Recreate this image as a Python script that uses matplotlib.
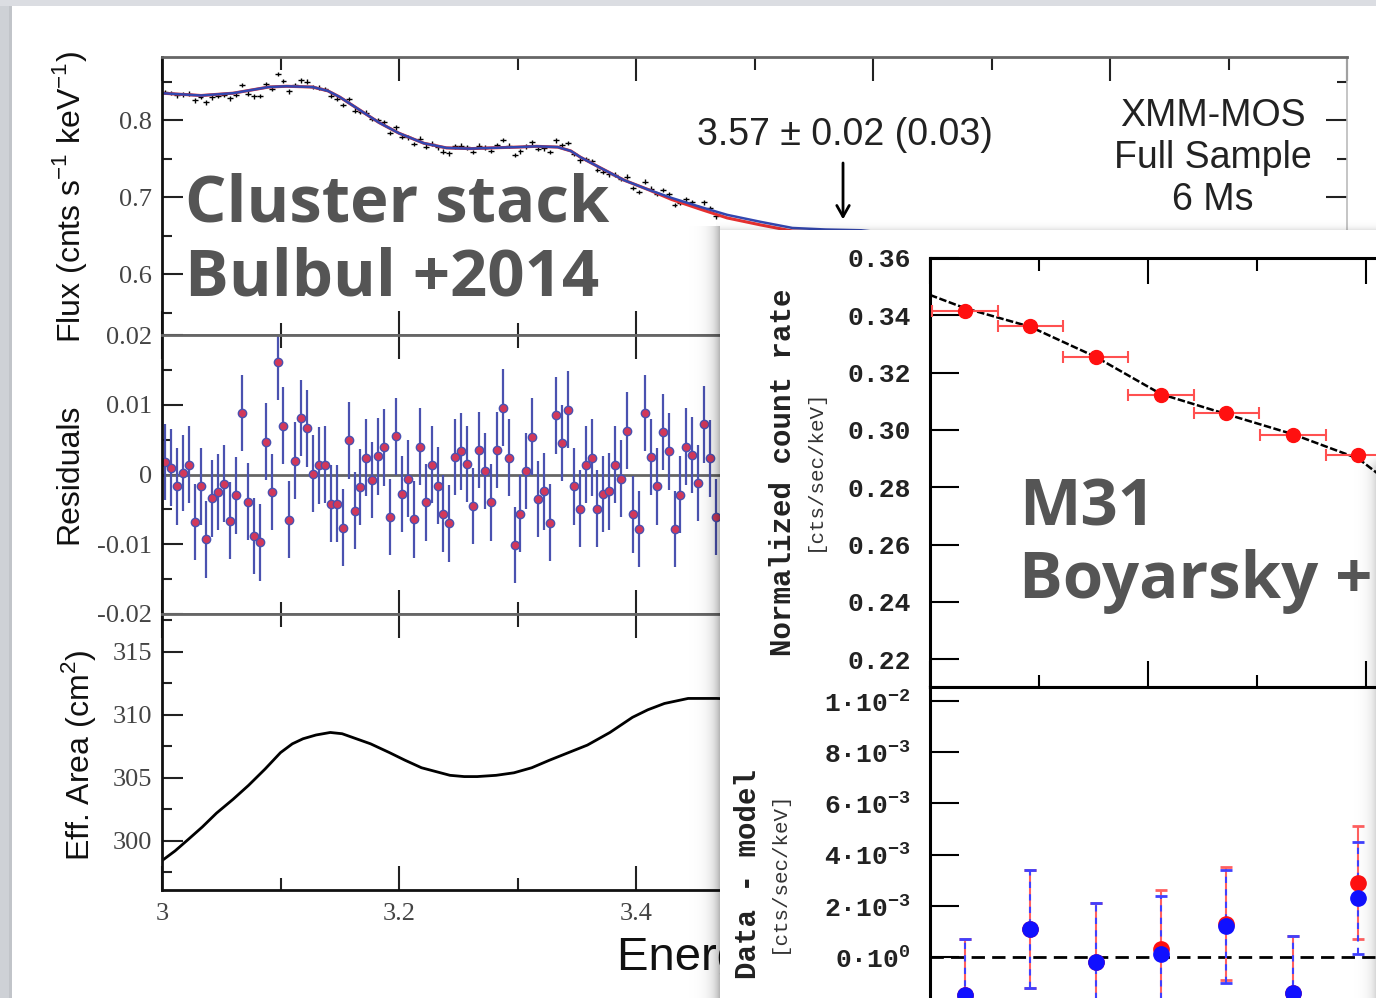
import numpy as np
import matplotlib
matplotlib.use('Agg')
import matplotlib.pyplot as plt
from matplotlib.transforms import Bbox

W, H = 1376, 998
plt.rcParams['font.family'] = ['Liberation Sans', 'DejaVu Sans']

#-----------------Cluster stack (Bulbul +2014), XMM-MOS--------------------------
model_e = [3.0, 3.033, 3.06, 3.09, 3.105, 3.127, 3.14, 3.15, 3.165, 3.183,
           3.2, 3.221, 3.24, 3.26, 3.278, 3.30, 3.316, 3.334, 3.345, 3.353,
           3.37, 3.39, 3.41, 3.43, 3.455, 3.477, 3.505, 3.532, 3.56, 3.59, 3.62]
model_blue = [0.835, 0.832, 0.835, 0.843, 0.844, 0.843, 0.838, 0.830, 0.815, 0.797,
              0.783, 0.770, 0.764, 0.763, 0.764, 0.765, 0.766, 0.765, 0.760, 0.752,
              0.738, 0.722, 0.710, 0.699, 0.687, 0.677, 0.668, 0.660, 0.658, 0.657, 0.652]
model_red = [0.835, 0.832, 0.835, 0.843, 0.844, 0.843, 0.838, 0.830, 0.815, 0.797,
             0.783, 0.770, 0.764, 0.763, 0.764, 0.765, 0.766, 0.765, 0.760, 0.752,
             0.738, 0.722, 0.710, 0.697, 0.684, 0.673, 0.664, 0.656, 0.655, 0.655, 0.650]

# 5 eV bins, residuals = data - model
res_e = 3.0025 + 0.005 * np.arange(94)
resid = [0.0018, 0.0010, -0.0017, 0.0002, 0.0014, -0.0068, -0.0017, -0.0093, -0.0034, -0.0025,
         -0.0013, -0.0066, -0.0030, 0.0088, -0.0039, -0.0088, -0.0097, 0.0047, -0.0025, 0.0162,
         0.0070, -0.0065, 0.0020, 0.0081, 0.0066, 0.0001, 0.0013, 0.0014, -0.0042, -0.0042,
         -0.0076, 0.0049, -0.0052, -0.0018, 0.0024, -0.0008, 0.0026, 0.0039, -0.0061, 0.0055,
         -0.0028, -0.0006, -0.0064, 0.0040, -0.0040, 0.0014, -0.0016, -0.0056, -0.0070, 0.0025,
         0.0033, 0.0015, -0.0045, 0.0035, 0.0005, -0.0040, 0.0035, 0.0096, 0.0024, -0.0101,
         -0.0056, 0.0005, 0.0054, -0.0035, -0.0024, -0.0069, 0.0085, 0.0045, 0.0093, -0.0017,
         -0.0049, 0.0014, 0.0024, -0.0049, -0.0028, -0.0024, 0.0014, -0.0006, 0.0063, -0.0057,
         -0.0078, 0.0088, 0.0025, -0.0017, 0.0061, 0.0033, -0.0078, -0.0029, 0.0040, 0.0028,
         -0.0012, 0.0072, 0.0023, -0.0061]
resid_err = 0.0055
flux_data = np.interp(res_e, model_e, model_blue) + np.array(resid)

area_e = [3.001, 3.011, 3.022, 3.034, 3.046, 3.06, 3.073, 3.087, 3.1, 3.11,
          3.119, 3.13, 3.142, 3.152, 3.161, 3.176, 3.192, 3.205, 3.219, 3.231,
          3.243, 3.255, 3.266, 3.282, 3.297, 3.312, 3.327, 3.343, 3.359, 3.378,
          3.397, 3.41, 3.424, 3.434, 3.444, 3.456, 3.468, 3.5]
area = [298.5, 299.2, 300.1, 301.1, 302.2, 303.3, 304.4, 305.7, 307.0, 307.7,
        308.1, 308.4, 308.6, 308.5, 308.2, 307.7, 307.0, 306.4, 305.8, 305.5,
        305.2, 305.1, 305.1, 305.2, 305.4, 305.8, 306.4, 307.0, 307.6, 308.6,
        309.8, 310.4, 310.9, 311.1, 311.3, 311.3, 311.3, 311.2]

#-----------------M31 (Boyarsky +2014)--------------------------
m31_e = [3.032, 3.092, 3.152, 3.212, 3.272, 3.333, 3.393]
m31_half = 0.03
m31_rate = [0.3415, 0.3363, 0.3254, 0.3122, 0.3059, 0.2982, 0.2912]
m31_model_e = [3.0, 3.032, 3.092, 3.152, 3.212, 3.272, 3.333, 3.393, 3.41]
m31_model = [0.3471, 0.3425, 0.3360, 0.3255, 0.3125, 0.3055, 0.2985, 0.2900, 0.2850]
m31_res_red = [-0.0015, 0.0011, -0.0002, 0.0003, 0.0013, -0.0014, 0.0029]
m31_res_blue = [-0.0015, 0.0011, -0.0002, 0.0001, 0.0012, -0.0014, 0.0023]
m31_err_red = [0.0022, 0.0023, 0.0023, 0.0023, 0.0022, 0.0022, 0.0022]
m31_err_blue = [0.0022, 0.0023, 0.0023, 0.0023, 0.0022, 0.0022, 0.0022]
m31_rate_ticks = [0.22, 0.24, 0.26, 0.28, 0.30, 0.32, 0.34, 0.36]
m31_res_ticks = [0.0, 0.002, 0.004, 0.006, 0.008, 0.01]
m31_res_labels = ['0\u00b710$^{\\mathregular{0}}$', '2\u00b710$^{\\mathregular{-3}}$',
                  '4\u00b710$^{\\mathregular{-3}}$', '6\u00b710$^{\\mathregular{-3}}$',
                  '8\u00b710$^{\\mathregular{-3}}$', '1\u00b710$^{\\mathregular{-2}}$']


def frac(x0, y0, x1, y1):
    return [x0 / W, 1 - y1 / H, (x1 - x0) / W, (y1 - y0) / H]


def fx(x):
    return x / W


def fy(y):
    return 1 - y / H


fig = plt.figure(figsize=(W / 100, H / 100), dpi=100)
fig.patch.set_facecolor('white')

serif = dict(fontfamily='Liberation Serif', fontsize=19, color='#444444')

ax1 = fig.add_axes(frac(162, 57, 1347, 335), zorder=1)
ax2 = fig.add_axes(frac(162, 335, 1347, 614), zorder=1)
ax3 = fig.add_axes(frac(162, 614, 1347, 890), zorder=1)
for ax in (ax1, ax2, ax3):
    ax.set_xlim(3, 4)
    # labels past 3.4 sit under the M31 card
    ax.set_xticks([3.0, 3.2, 3.4, 3.6, 3.8, 4.0], ['3', '3.2', '3.4', '', '', ''], **serif)
    ax.set_xticks([3.1, 3.3, 3.5, 3.7, 3.9], minor=True)
    ax.tick_params(which='both', direction='in', top=True, right=True, color='#222222',
                   width=1.5, pad=9)
    ax.tick_params(axis='x', which='major', length=17)
    ax.tick_params(axis='x', which='minor', length=9)
    ax.tick_params(axis='y', which='major', length=15, pad=7)
    ax.tick_params(axis='y', which='minor', length=7)
    for s in ax.spines.values():
        s.set_color('#666666')
        s.set_linewidth(2)
    ax.spines['left'].set_color('#111111')
    ax.spines['right'].set_color('#bbbbbb')
    ax.spines['right'].set_linewidth(1.2)
ax1.tick_params(labelbottom=False)
ax2.tick_params(labelbottom=False)
ax3.spines['bottom'].set_color('#111111')

# flux panel
ax1.set_ylim(0.521, 0.882)
ax1.set_yticks([0.6, 0.7, 0.8], ['0.6', '0.7', '0.8'], **serif)
ax1.set_yticks([0.55, 0.65, 0.75, 0.85], minor=True)
ax1.errorbar(res_e, flux_data, yerr=0.003, xerr=0.0025, fmt='none', ecolor='black', elinewidth=1)
ax1.plot(model_e, model_red, color='#e53030', lw=2.2)
ax1.plot(model_e, model_blue, color='#3347b0', lw=1.8)
ax1.annotate('', xy=(3.5747, 0.6675), xytext=(3.5747, 0.748),
             arrowprops=dict(arrowstyle='->, head_width=0.45, head_length=0.8', color='black', lw=2))
ax1.text(3.576, 0.7805, '3.57 \u00b1 0.02 (0.03)', ha='center', va='center', fontsize=27, color='#222222')
ax1.text(3.887, 0.7506, 'XMM-MOS\nFull Sample\n6 Ms', ha='center', va='center', fontsize=27,
         color='#222222', linespacing=1.22)

# residual panel
ax2.set_ylim(-0.02, 0.02)
ax2.set_yticks([-0.02, -0.01, 0.0, 0.01, 0.02], ['-0.02', '-0.01', '0', '0.01', '0.02'], **serif)
ax2.set_yticks([-0.015, -0.005, 0.005, 0.015], minor=True)
ax2.axhline(0, color='#666666', lw=2)
ax2.errorbar(res_e, resid, yerr=resid_err, fmt='o', ms=6, mfc='#d2385a', mec='#4a50b0', mew=1,
             ecolor='#4a52b0', elinewidth=1.6)

# effective area panel
ax3.set_ylim(296.1, 318.0)
ax3.set_yticks([300, 305, 310, 315], ['300', '305', '310', '315'], **serif)
ax3.set_yticks([297.5, 302.5, 307.5, 312.5, 317.5], minor=True)
ax3.plot(area_e, area, color='black', lw=2)

fig.text(fx(70), fy(197), 'Flux (cnts s$^{\\mathregular{-1}}$ keV$^{\\mathregular{-1}}$)', rotation=90,
         ha='center', va='center', fontsize=23, color='#111111', zorder=1)
fig.text(fx(69), fy(474), 'Residuals', rotation=90, ha='center', va='center', fontsize=23,
         color='#111111', zorder=1)
fig.text(fx(79), fy(755), 'Eff. Area (cm$^{\\mathregular{2}}$)', rotation=90, ha='center', va='center',
         fontsize=23, color='#111111', zorder=1)
# x label runs under the M31 card, so only its left part shows
xlab = fig.text(fx(617), fy(958), 'Energy (keV)', ha='left', va='center', fontsize=34,
                color='#111111', zorder=1)
xlab.set_clip_box(Bbox.from_extents(0, 0, 720, H))

# ------ white card of the M31 figure with its shadow ------
yy, xx = np.mgrid[0:H, 0:W].astype(float)
ix, iy = 720, 230
card = np.zeros((H, W, 4))
a = np.zeros((H, W))
left = (xx < ix) & (yy >= iy - 4)
a[left] = 0.33 * np.exp(-(ix - xx[left]) / 7.0)
top = (yy < iy) & (xx >= ix - 4)
a[top] = np.maximum(a[top], 0.14 * np.exp(-(iy - yy[top]) / 3.0))
card[..., 3] = a
card[(xx >= ix) & (yy >= iy)] = 1.0
ov1 = fig.add_axes([0, 0, 1, 1], zorder=5)
ov1.imshow(card, extent=(0, W, H, 0), interpolation='nearest', aspect='auto')
ov1.set_xlim(0, W)
ov1.set_ylim(H, 0)
ov1.axis('off')

# ------ M31 panels ------
mono = dict(fontfamily='Liberation Mono', fontweight='bold', fontsize=19, color='#222222')
axA = fig.add_axes(frac(930, 258, 1584, 687), zorder=6)
axB = fig.add_axes(frac(930, 687, 1584, 1200), zorder=6)
for ax in (axA, axB):
    ax.set_xlim(3.0, 3.6)
    ax.set_xticks([3.0, 3.2, 3.4])
    ax.set_xticks([3.1, 3.3, 3.5], minor=True)
    ax.tick_params(which='both', direction='in', width=1.5, color='black', labelbottom=False, right=False)
    ax.tick_params(axis='y', which='major', length=21, pad=14)
    ax.tick_params(axis='x', which='major', length=19)
    ax.tick_params(axis='x', which='minor', length=9)
    for s in ax.spines.values():
        s.set_linewidth(2.2)
        s.set_color('black')
axA.tick_params(axis='x', which='both', top=True)
axB.tick_params(axis='x', which='both', top=False)

axA.set_ylim(0.2103, 0.36)
axA.set_yticks(m31_rate_ticks, [f'{v:.2f}' for v in m31_rate_ticks], **mono)
axA.plot(m31_model_e, m31_model, color='black', lw=1.8, ls=(0, (3, 1)))
axA.errorbar(m31_e, m31_rate, xerr=m31_half, fmt='o', color='#ff1010', ms=10, ecolor='#ff5050',
             elinewidth=1.5, capsize=4, capthick=1.5, zorder=3)

axB.set_ylim(-0.0095, 0.01055)
axB.set_yticks(m31_res_ticks, m31_res_labels, **mono)
axB.axhline(0, color='black', lw=2, ls=(0, (4.8, 2.6)))
axB.errorbar(m31_e, m31_res_red, yerr=m31_err_red, fmt='o', color='#ff1010', ms=11, ecolor='#ff6060',
             elinewidth=1.5, capsize=4.5, capthick=2)
eb = axB.errorbar(m31_e, m31_res_blue, yerr=m31_err_blue, fmt='o', color='#1010ff', ms=11,
                  ecolor='#4040ff', elinewidth=1.5, capsize=4.5, capthick=2)
eb[2][0].set_linestyle((0, (3, 3)))

fig.text(fx(783), fy(472), 'Normalized count rate', rotation=90, ha='center', va='center',
         fontfamily='Liberation Mono', fontweight='bold', fontsize=21, color='#222222', zorder=7)
fig.text(fx(814), fy(470), '[cts/sec/keV]', rotation=90, ha='center', va='center',
         fontfamily='Liberation Mono', fontsize=15, color='#333333', zorder=7)
fig.text(fx(748), fy(874), 'Data - model', rotation=90, ha='center', va='center',
         fontfamily='Liberation Mono', fontweight='bold', fontsize=21, color='#222222', zorder=7)
fig.text(fx(778), fy(872), '[cts/sec/keV]', rotation=90, ha='center', va='center',
         fontfamily='Liberation Mono', fontsize=15, color='#333333', zorder=7)

# ------ slide frame and right-hand shadow ------
frame = np.zeros((H, W, 4))
frame[..., 3] = 0.25 * np.exp(-(W + 2 - xx) / 6.0) * np.clip((yy - 455) / 12.0, 0, 1)
frame[:, :12, :3] = [0.81, 0.82, 0.84]
frame[:, 9:12, :3] = [0.76, 0.77, 0.79]
frame[:, :12, 3] = 1
frame[:6, :, :3] = [0.86, 0.87, 0.89]
frame[:6, :, 3] = 1
ov2 = fig.add_axes([0, 0, 1, 1], zorder=9)
ov2.imshow(frame, extent=(0, W, H, 0), interpolation='nearest', aspect='auto')
ov2.set_xlim(0, W)
ov2.set_ylim(H, 0)
ov2.axis('off')

big = dict(fontfamily='Open Sans', fontweight='bold', fontsize=47, color='#555555',
           ha='left', va='baseline', zorder=10)
fig.text(fx(185), fy(222), 'Cluster stack', **big)
fig.text(fx(185), fy(295), 'Bulbul +2014', **big)
fig.text(fx(1019), fy(525), 'M31', **big)
fig.text(fx(1019), fy(598), 'Boyarsky +', **big)

fig.savefig('out.png', dpi=100)
